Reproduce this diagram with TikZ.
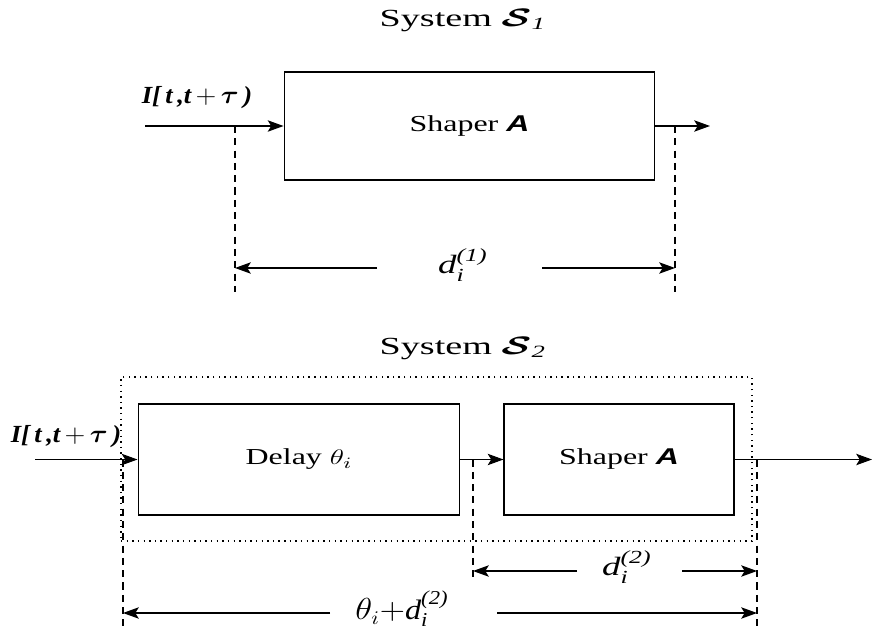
\documentclass[tikz,border=0pt]{standalone}
\usepackage{amsmath,amssymb}
\usepackage{fontspec}
\setmainfont{Liberation Serif}
\setsansfont{Liberation Sans}
\usepackage{graphicx}
\usetikzlibrary{positioning, arrows.meta}
\newcommand{\stretchtxt}[1]{\scalebox{1.4}[1]{#1}}
\newcommand{\shaperA}{\textsf{\bfseries\itshape A}}
\newcommand{\inlabel}{\textbf{\textit{I[\,t\,,t\,}}$+$\,$\boldsymbol{\tau}$\,\textbf{\textit{)}}}
\tikzset{
  blk/.style={draw, line width=0.6pt, inner sep=0pt, font=\fontsize{13}{15}\selectfont},
  sysframe/.style={draw, line width=0.7pt, dash pattern=on 0.8pt off 2.4pt, inner sep=0pt},
  flow/.style={-{Stealth[length=9pt,width=6.5pt,inset=2pt]}, line width=0.6pt},
  dimline/.style={-{Stealth[length=9pt,width=6.5pt,inset=2pt]}, line width=0.6pt},
  guide/.style={line width=0.6pt, dash pattern=on 4pt off 3pt},
  lbl/.style={inner sep=1pt, font=\fontsize{14}{16}\selectfont},
  title/.style={inner sep=1pt, font=\fontsize{14}{16}\selectfont},
  dimlbl/.style={inner sep=1pt, font=\fontsize{15}{17}\selectfont},
}

\begin{document}
\begin{tikzpicture}[x=0.02cm, y=-0.02cm, >=Stealth]
    \useasboundingbox (0,0) rectangle (873,632);
    % system S1
    \node[title] (tS1) at (463,20) {\scalebox{1.55}[1]{System $\boldsymbol{\mathcal{S}}_{\mathit{1}}$}};
    \node[blk, minimum width=7.42cm, minimum height=2.16cm] (shA1) at (469.5,126) {\stretchtxt{Shaper \shaperA}};
    \node[lbl] (I1) at (197,98) {\scalebox{1.08}[1]{\inlabel}};
    \coordinate (in1) at (145,126);
    \coordinate (out1) at (710,126);
    \draw[flow] (in1) -- (shA1.west);
    \draw[flow] (shA1.east) -- (out1);
    \coordinate (g1a) at (235,126); \coordinate (g1b) at (235,292);
    \coordinate (g2a) at (675,126); \coordinate (g2b) at (675,292);
    \draw[guide] (g1a) -- (g1b);
    \draw[guide] (g2a) -- (g2b);
    \node[dimlbl] (d1) at (463,265) {\stretchtxt{$\textit{d}_{\textit{i}}^{\textit{(1)}}$}};
    \coordinate (d1l) at (377,268); \coordinate (d1r) at (542,268);
    \draw[dimline] (d1l) -- (g1a |- d1l);
    \draw[dimline] (d1r) -- (g2a |- d1r);
    % system S2
    \node[title] (tS2) at (463,348) {\scalebox{1.55}[1]{System $\boldsymbol{\mathcal{S}}_{\mathit{2}}$}};
    \node[sysframe, minimum width=12.62cm, minimum height=3.28cm] (frame2) at (436.5,459) {};
    \node[blk, minimum width=6.44cm, minimum height=2.22cm] (dly) at (299,459.5) {\stretchtxt{Delay $\theta_i$}};
    \node[blk, minimum width=4.6cm, minimum height=2.22cm] (shA2) at (619,459.5) {\stretchtxt{Shaper \shaperA}};
    \node[lbl] (I2) at (66,437) {\scalebox{1.08}[1]{\inlabel}};
    \coordinate (in2) at (35,459.5);
    \coordinate (out2) at (872,459.5);
    \draw[flow] (in2) -- (dly.west);
    \draw[flow] (dly.east) -- (shA2.west);
    \draw[flow] (shA2.east) -- (out2);
    \coordinate (g3a) at (123,459.5); \coordinate (g3b) at (123,630);
    \coordinate (g4a) at (473,459.5); \coordinate (g4b) at (473,582);
    \coordinate (g5a) at (757,459.5); \coordinate (g5b) at (757,630);
    \draw[guide] (g3a) -- (g3b);
    \draw[guide] (g4a) -- (g4b);
    \draw[guide] (g5a) -- (g5b);
    \node[dimlbl] (d2) at (627,567) {\stretchtxt{$\textit{d}_{\textit{i}}^{\textit{(2)}}$}};
    \coordinate (d2l) at (577,571); \coordinate (d2r) at (682,571);
    \draw[dimline] (d2l) -- (g4a |- d2l);
    \draw[dimline] (d2r) -- (g5a |- d2r);
    \node[dimlbl, font=\fontsize{16}{18}\selectfont] (d3) at (402,609) {\scalebox{1.15}[1]{$\theta_i{+}\textit{d}_{\textit{i}}^{\textit{(2)}}$}};
    \coordinate (d3l) at (330,613); \coordinate (d3r) at (497,613);
    \draw[dimline] (d3l) -- (g3a |- d3l);
    \draw[dimline] (d3r) -- (g5a |- d3r);
\end{tikzpicture}
\end{document}
